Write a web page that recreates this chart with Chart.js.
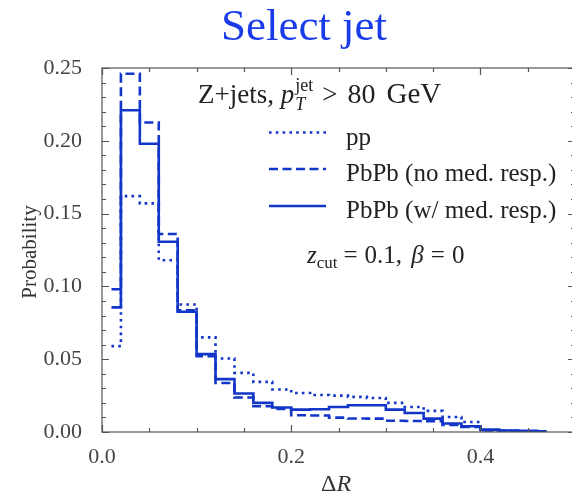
<!DOCTYPE html>
<html>
<head>
<meta charset="utf-8">
<script src="https://cdn.jsdelivr.net/npm/chart.js@4.4.0/dist/chart.umd.min.js"></script>
<style>
  html, body { margin: 0; padding: 0; background: #fff; overflow: hidden; }
  #wrap { position: relative; width: 580px; height: 497px; }
</style>
</head>
<body>
<div id="wrap"><canvas id="chart" width="580" height="497"></canvas></div>
<script>
// bin centres (Delta R), steps drawn at the bin edges
const deltaR = [0.01, 0.03, 0.05, 0.07, 0.09, 0.11, 0.13, 0.15, 0.17, 0.19, 0.21, 0.23,
                0.25, 0.27, 0.29, 0.31, 0.33, 0.35, 0.37, 0.39, 0.41, 0.43, 0.45, 0.47];

const ppValues = [0.059, 0.162, 0.157, 0.118, 0.0876, 0.065, 0.0505, 0.0406, 0.0344, 0.0292, 0.0268, 0.0254,
                  0.0250, 0.0241, 0.0234, 0.0200, 0.0172, 0.0145, 0.0103, 0.0069, 0.0012, 0.0008, 0.0005, 0.0003];
const pbpbNoMedValues = [0.098, 0.246, 0.2126, 0.136, 0.0835, 0.052, 0.0337, 0.0237, 0.0177, 0.0158, 0.0115, 0.0113,
                         0.0099, 0.0093, 0.0092, 0.0077, 0.0076, 0.0074, 0.0048, 0.0034, 0.0010, 0.0007, 0.0005, 0.0003];
const pbpbMedValues = [0.0856, 0.221, 0.198, 0.1307, 0.0826, 0.0535, 0.0363, 0.0264, 0.0200, 0.0168, 0.0154, 0.0156,
                       0.0172, 0.0184, 0.0184, 0.0154, 0.0131, 0.0092, 0.0058, 0.0039, 0.0016, 0.0010, 0.0008, 0.0005];

const seriesLabels = ["pp", "PbPb (no med. resp.)", "PbPb (w/ med. resp.)"];
const xTickLabels = ["0.0", "0.2", "0.4"];
const yTickLabels = ["0.00", "0.05", "0.10", "0.15", "0.20", "0.25"];

const BLUE = "#1236c8";
const SERIF = '"Liberation Serif", "Times New Roman", serif';
const DOTTED = [2.6, 4.2];
const DASHED = [9, 4.5];

function points(values) {
  return deltaR.map((r, i) => ({ x: r, y: values[i] }));
}

function labelFor(value, list, digits) {
  const s = value.toFixed(digits);
  return list.includes(s) && Math.abs(value - parseFloat(s)) < 1e-6 ? s : "";
}

// draws a run of text pieces; a piece with "stack" draws sub+superscript at the same x
function runText(ctx, x, y, parts) {
  parts.forEach(p => {
    const items = p.stack || [p];
    let adv = 0;
    items.forEach(q => {
      ctx.font = `${q.italic ? "italic " : ""}${q.size}px ${SERIF}`;
      ctx.fillText(q.t, x, y + (q.dy || 0));
      adv = Math.max(adv, ctx.measureText(q.t).width);
    });
    x += adv + (p.gap || 0);
  });
  return x;
}

const decorations = {
  id: "decorations",
  afterDraw(chart) {
    const { ctx, chartArea: a, scales: { x, y } } = chart;
    ctx.save();

    // frame and inward ticks
    ctx.strokeStyle = "#555";
    ctx.lineWidth = 1.2;
    ctx.strokeRect(a.left, a.top, a.right - a.left, a.bottom - a.top);
    ctx.beginPath();
    x.ticks.forEach(t => {
      const px = Math.round(x.getPixelForValue(t.value)) + 0.5;
      const len = t.label ? 7 : 4;
      ctx.moveTo(px, a.bottom); ctx.lineTo(px, a.bottom - len);
      ctx.moveTo(px, a.top); ctx.lineTo(px, a.top + len);
    });
    y.ticks.forEach(t => {
      const py = Math.round(y.getPixelForValue(t.value)) + 0.5;
      const len = t.label ? 7 : 4;
      ctx.moveTo(a.left, py); ctx.lineTo(a.left + len, py);
      ctx.moveTo(a.right, py); ctx.lineTo(a.right - len, py);
    });
    ctx.stroke();

    // title
    ctx.fillStyle = "#1a3be8";
    ctx.textAlign = "center";
    ctx.textBaseline = "alphabetic";
    ctx.font = `45px ${SERIF}`;
    ctx.fillText("Select jet", 304, 40);

    // axis titles
    ctx.fillStyle = "#333";
    ctx.font = `21px ${SERIF}`;
    ctx.save();
    ctx.translate(36, 252);
    ctx.rotate(-Math.PI / 2);
    ctx.fillText("Probability", 0, 0);
    ctx.restore();
    ctx.textAlign = "left";
    runText(ctx, 321, 491, [{ t: "Δ", size: 24 }, { t: "R", size: 24, italic: true }]);

    // annotation
    ctx.fillStyle = "#222";
    runText(ctx, 198, 103, [
      { t: "Z+jets, ", size: 27 },
      { t: "p", size: 27, italic: true, gap: 1 },
      { stack: [{ t: "jet", size: 18, dy: -12 }, { t: "T", size: 18, italic: true, dy: 7 }], gap: 9 },
      { t: ">", size: 27, gap: 10 },
      { t: "80", size: 28, gap: 11 },
      { t: "GeV", size: 29 }
    ]);
    runText(ctx, 307, 263, [
      { t: "z", size: 25, italic: true },
      { t: "cut", size: 17, dy: 5, gap: 6 },
      { t: "=", size: 25, gap: 7 },
      { t: "0.1, ", size: 25, gap: 3 },
      { t: "β", size: 25, italic: true, gap: 7 },
      { t: "=", size: 25, gap: 7 },
      { t: "0", size: 25 }
    ]);

    // legend
    const rows = [132.5, 169, 206];
    const dashes = [DOTTED, DASHED, []];
    rows.forEach((ry, i) => {
      ctx.strokeStyle = BLUE;
      ctx.lineWidth = 2.6;
      ctx.setLineDash(dashes[i]);
      ctx.beginPath();
      ctx.moveTo(269, ry); ctx.lineTo(326, ry);
      ctx.stroke();
      ctx.setLineDash([]);
      ctx.fillStyle = "#222";
      ctx.font = `25px ${SERIF}`;
      ctx.fillText(seriesLabels[i], 346, ry + 12);
    });

    ctx.restore();
  }
};

new Chart(document.getElementById("chart"), {
  type: "line",
  data: {
    datasets: [
      { label: seriesLabels[0], data: points(ppValues), borderDash: DOTTED },
      { label: seriesLabels[1], data: points(pbpbNoMedValues), borderDash: DASHED },
      { label: seriesLabels[2], data: points(pbpbMedValues), borderDash: [] }
    ].map(d => Object.assign(d, {
      borderColor: BLUE,
      borderWidth: 2.6,
      stepped: "middle",
      pointRadius: 0,
      fill: false
    }))
  },
  options: {
    responsive: false,
    animation: false,
    devicePixelRatio: 1,
    layout: { padding: { top: 68, right: 5, left: 0, bottom: 0 } },
    plugins: { legend: { display: false }, tooltip: { enabled: false }, title: { display: false } },
    scales: {
      x: {
        type: "linear",
        min: 0,
        max: 0.5,
        grid: { display: false },
        border: { display: false },
        afterFit: s => { s.height = 65; },
        ticks: {
          stepSize: 0.05,
          autoSkip: false,
          maxRotation: 0,
          padding: 4,
          color: "#444",
          font: { family: SERIF, size: 22 },
          callback: v => labelFor(v, xTickLabels, 1)
        }
      },
      y: {
        min: 0,
        max: 0.25,
        grid: { display: false },
        border: { display: false },
        afterFit: s => { s.width = 102; },
        ticks: {
          stepSize: 0.01,
          autoSkip: false,
          padding: 12,
          color: "#444",
          font: { family: SERIF, size: 22 },
          callback: v => labelFor(v, yTickLabels, 2)
        }
      }
    }
  },
  plugins: [decorations]
});
</script>
</body>
</html>
